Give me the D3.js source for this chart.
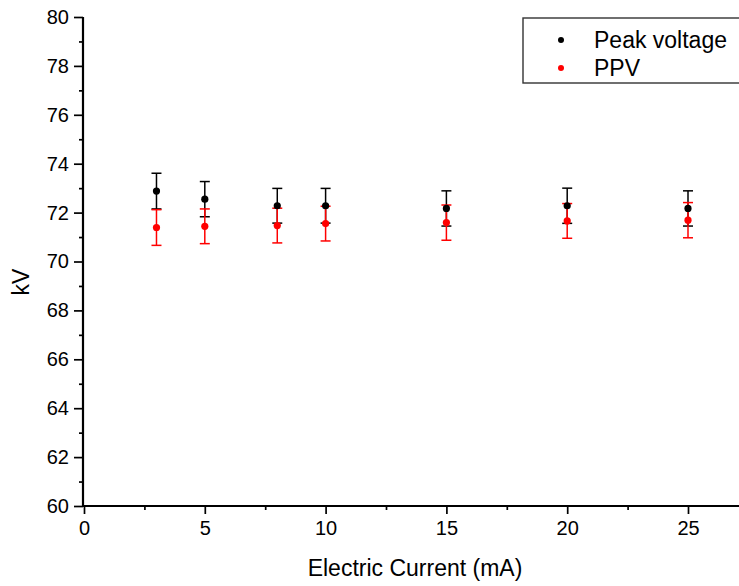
<!DOCTYPE html>
<html>
<head>
<meta charset="utf-8">
<script src="https://cdn.jsdelivr.net/npm/d3@7"></script>
<style>
html,body{margin:0;padding:0;background:#fff;}
svg{display:block;font-family:"Liberation Sans",Arial,sans-serif;}
</style>
</head>
<body>
<svg id="chart" width="739" height="586"></svg>
<script>
const current = [3, 5, 8, 10, 15, 20, 25];
const peakVoltage = [72.88, 72.55, 72.28, 72.28, 72.17, 72.28, 72.17];
const peakVoltageErr = [0.73, 0.72, 0.71, 0.71, 0.72, 0.72, 0.72];
const ppv = [71.39, 71.44, 71.47, 71.55, 71.59, 71.66, 71.69];
const ppvErr = [0.73, 0.71, 0.71, 0.71, 0.72, 0.71, 0.72];
const xTicks = [0, 5, 10, 15, 20, 25];
const yTicks = [60, 62, 64, 66, 68, 70, 72, 74, 76, 78, 80];
const seriesNames = ["Peak voltage", "PPV"];
const seriesColors = ["#000000", "#ff0000"];

const svg = d3.select("#chart");
const x = d3.scaleLinear().domain([0, 27.5]).range([84, 84 + 27.5 * 24.16]);
const y = d3.scaleLinear().domain([60, 80]).range([506, 17]);

// axes
const xAxis = d3.axisBottom(x).tickValues(xTicks).tickSize(8).tickPadding(7).tickFormat(d3.format("d"));
const xMinor = d3.axisBottom(x).tickValues(d3.range(2.5, 27.5, 5)).tickSize(4).tickFormat("");
const yAxis = d3.axisLeft(y).tickValues(yTicks).tickSize(9).tickPadding(5).tickFormat(d3.format("d"));
const yMinor = d3.axisLeft(y).tickValues(d3.range(61, 80, 2)).tickSize(4).tickFormat("");

function styleAxis(g, fs) {
  g.select(".domain").remove();
  g.selectAll(".tick line").attr("stroke", "#000").attr("stroke-width", 1.7);
  g.selectAll(".tick text").attr("fill", "#000").style("font-size", fs + "px").style("font-family", "'Liberation Sans', Arial, sans-serif");
}
const gxm = svg.append("g").attr("transform", "translate(0,506)").call(xMinor); styleAxis(gxm, 20);
const gx = svg.append("g").attr("transform", "translate(0,506)").call(xAxis); styleAxis(gx, 20);
const gym = svg.append("g").attr("transform", "translate(83,0)").call(yMinor); styleAxis(gym, 20);
const gy = svg.append("g").attr("transform", "translate(83,0)").call(yAxis); styleAxis(gy, 20);

// axis lines
svg.append("line").attr("x1", 83).attr("x2", 83).attr("y1", y(80)).attr("y2", 507).attr("stroke", "#000").attr("stroke-width", 2.2);
svg.append("line").attr("x1", 82).attr("x2", 760).attr("y1", 506).attr("y2", 506).attr("stroke", "#000").attr("stroke-width", 2.2);

// axis titles
svg.append("text").attr("x", 415).attr("y", 576).attr("text-anchor", "middle").style("font-size", "23px").text("Electric Current (mA)");
svg.append("text").attr("transform", "translate(29,282) rotate(-90)").attr("text-anchor", "middle").style("font-size", "23px").text("kV");

// data
const series = [
  {name: seriesNames[0], vals: peakVoltage, errs: peakVoltageErr, color: seriesColors[0]},
  {name: seriesNames[1], vals: ppv, errs: ppvErr, color: seriesColors[1]}
];
const capHalf = 5;
series.forEach(s => {
  const g = svg.append("g");
  current.forEach((c, i) => {
    const v = s.vals[i], e = s.errs[i];
    g.append("line").attr("x1", x(c)).attr("x2", x(c)).attr("y1", y(v - e)).attr("y2", y(v + e)).attr("stroke", s.color).attr("stroke-width", 1.5);
    g.append("line").attr("x1", x(c) - capHalf).attr("x2", x(c) + capHalf).attr("y1", y(v + e)).attr("y2", y(v + e)).attr("stroke", s.color).attr("stroke-width", 1.5);
    g.append("line").attr("x1", x(c) - capHalf).attr("x2", x(c) + capHalf).attr("y1", y(v - e)).attr("y2", y(v - e)).attr("stroke", s.color).attr("stroke-width", 1.5);
  });
});
series.forEach(s => {
  svg.append("g").selectAll("circle").data(current).join("circle")
    .attr("cx", d => x(d)).attr("cy", (d, i) => y(s.vals[i])).attr("r", 3.6).attr("fill", s.color);
});

// legend
const lg = svg.append("g");
lg.append("rect").attr("x", 523).attr("y", 18).attr("width", 230).attr("height", 65).attr("fill", "#fff").attr("stroke", "#333").attr("stroke-width", 1.4);
series.forEach((s, i) => {
  const cy = 40 + i * 28;
  lg.append("circle").attr("cx", 561).attr("cy", cy).attr("r", 3).attr("fill", s.color);
  lg.append("text").attr("x", 594).attr("y", cy + 8).style("font-size", "23px").attr("fill", "#000").text(s.name);
});
</script>
</body>
</html>
